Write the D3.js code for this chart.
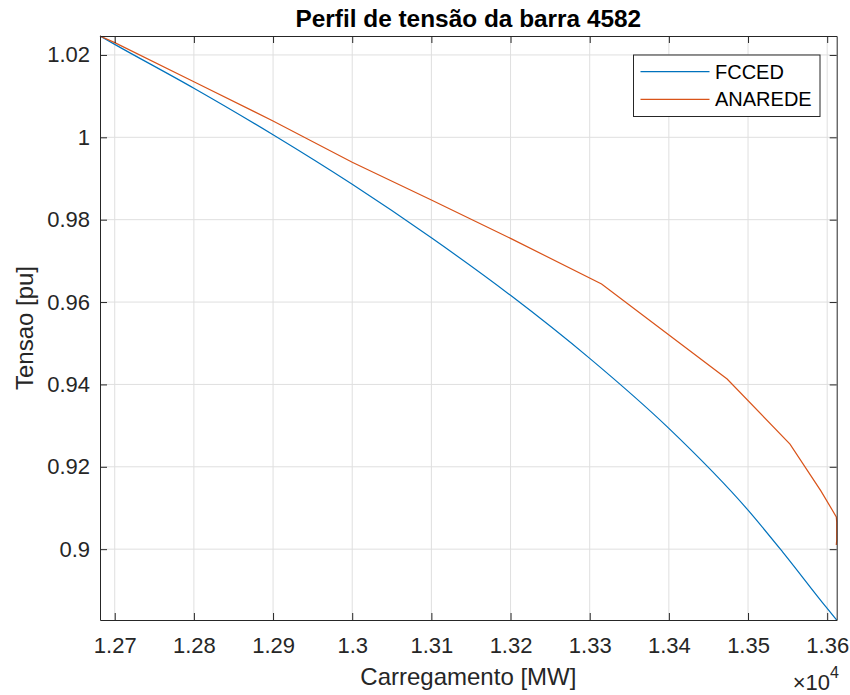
<!DOCTYPE html>
<html>
<head>
<meta charset="utf-8">
<script src="https://cdn.jsdelivr.net/npm/d3@7"></script>
<style>
  body { margin: 0; background: #fff; }
  svg { font-family: "Liberation Sans", Arial, Helvetica, sans-serif; }
</style>
</head>
<body>
<svg width="850" height="695"></svg>
<script>
// Data (load in MW, voltage in pu)
const fccedLoad = [12681.4, 12700, 12800, 12900, 13000, 13100, 13200, 13300, 13400, 13500, 13543.6, 13600, 13612];
const fccedVolt = [1.0246, 1.02257, 1.01191, 1.00062, 0.98859, 0.97560, 0.96163, 0.94632, 0.92932, 0.90947, 0.89934, 0.88560, 0.8828];

const anaredeLoad = [12681.4, 12700, 12800, 12900, 13000, 13100, 13200, 13315, 13473.6, 13553, 13592, 13611.5, 13612, 13612, 13611.5];
const anaredeVolt = [1.0246, 1.0230, 1.01351, 1.00397, 0.99394, 0.98478, 0.97547, 0.96437, 0.94130, 0.92551, 0.91416, 0.90785, 0.9066, 0.9022, 0.9010];

const xTicks = [12700, 12800, 12900, 13000, 13100, 13200, 13300, 13400, 13500, 13600];
const yTicks = [0.9, 0.92, 0.94, 0.96, 0.98, 1, 1.02];
const seriesNames = ["FCCED", "ANAREDE"];
const seriesColors = ["#0072BD", "#D95319"];

const fcced = fccedLoad.map((v, i) => ({ load: v, volt: fccedVolt[i] }));
const anarede = anaredeLoad.map((v, i) => ({ load: v, volt: anaredeVolt[i] }));

const svg = d3.select("svg"),
    margin = { top: 36, right: 13.3, bottom: 75, left: 100 },
    width = +svg.attr("width") - margin.left - margin.right,
    height = +svg.attr("height") - margin.top - margin.bottom;

const axisColor = "#262626";
const g = svg.append("g").attr("transform", `translate(${margin.left},${margin.top})`);

const x = d3.scaleLinear().domain([12681.4, 13612]).range([0, width]);
const y = d3.scaleLinear().domain([0.8828, 1.0246]).range([height, 0]);

// grid
g.append("g").selectAll("line").data(xTicks).join("line")
  .attr("x1", d => x(d)).attr("x2", d => x(d))
  .attr("y1", 0).attr("y2", height)
  .attr("stroke", "#dfdfdf").attr("stroke-width", 1);
g.append("g").selectAll("line").data(yTicks).join("line")
  .attr("x1", 0).attr("x2", width)
  .attr("y1", d => y(d)).attr("y2", d => y(d))
  .attr("stroke", "#dfdfdf").attr("stroke-width", 1);

// lines
const line = d3.line().x(d => x(d.load)).y(d => y(d.volt));
g.append("path").datum(fcced)
  .attr("fill", "none").attr("stroke", seriesColors[0]).attr("stroke-width", 1.2)
  .attr("d", line.curve(d3.curveMonotoneX));
g.append("path").datum(anarede)
  .attr("fill", "none").attr("stroke", seriesColors[1]).attr("stroke-width", 1.2)
  .attr("d", line.curve(d3.curveLinear));

// axes (ticks inside, box on)
const tickLen = 7;
const xb = g.append("g").attr("transform", `translate(0,${height})`)
  .call(d3.axisBottom(x).tickValues(xTicks).tickSizeInner(-tickLen).tickSizeOuter(0)
    .tickPadding(17).tickFormat(d => d3.format("")(+(d / 10000).toFixed(2))));
const xt = g.append("g")
  .call(d3.axisTop(x).tickValues(xTicks).tickSizeInner(-tickLen).tickSizeOuter(0).tickFormat(""));
const yl = g.append("g")
  .call(d3.axisLeft(y).tickValues(yTicks).tickSizeInner(-tickLen).tickSizeOuter(0)
    .tickPadding(10).tickFormat(d => d3.format("")(+d.toFixed(2))));
const yr = g.append("g").attr("transform", `translate(${width},0)`)
  .call(d3.axisRight(y).tickValues(yTicks).tickSizeInner(-tickLen).tickSizeOuter(0).tickFormat(""));

[xb, xt, yl, yr].forEach(a => {
  a.select(".domain").attr("stroke", axisColor).attr("stroke-width", 1);
  a.selectAll(".tick line").attr("stroke", axisColor);
  a.selectAll("text").attr("fill", axisColor).attr("font-size", 22).attr("font-family", null);
});

// title and labels
svg.append("text")
  .attr("x", margin.left + width / 2).attr("y", 27)
  .attr("text-anchor", "middle").attr("font-weight", "bold").attr("font-size", 24.4)
  .attr("fill", "#000").text("Perfil de tensão da barra 4582");

svg.append("text")
  .attr("x", margin.left + width / 2).attr("y", 685)
  .attr("text-anchor", "middle").attr("font-size", 24).attr("fill", axisColor)
  .text("Carregamento [MW]");

svg.append("text")
  .attr("transform", `translate(33,${margin.top + height / 2}) rotate(-90)`)
  .attr("text-anchor", "middle").attr("font-size", 24).attr("fill", axisColor)
  .text("Tensao [pu]");

// x10^4 exponent
const ex = svg.append("text")
  .attr("x", 839).attr("y", 690).attr("text-anchor", "end")
  .attr("font-size", 22).attr("fill", axisColor);
ex.append("tspan").text("\u00d710");
ex.append("tspan").attr("dy", -12).attr("font-size", 16).text("4");

// legend
const lg = svg.append("g").attr("transform", "translate(633.5,55)");
lg.append("rect").attr("width", 186.5).attr("height", 61.5)
  .attr("fill", "#fff").attr("stroke", axisColor).attr("stroke-width", 1);
seriesNames.forEach((name, i) => {
  const yy = 16.7 + i * 27.6;
  lg.append("line").attr("x1", 7).attr("x2", 76).attr("y1", yy).attr("y2", yy)
    .attr("stroke", seriesColors[i]).attr("stroke-width", 1.2);
  lg.append("text").attr("x", 81.5).attr("y", yy).attr("dy", "0.35em")
    .attr("font-size", 20).attr("fill", "#000").text(name);
});
</script>
</body>
</html>
